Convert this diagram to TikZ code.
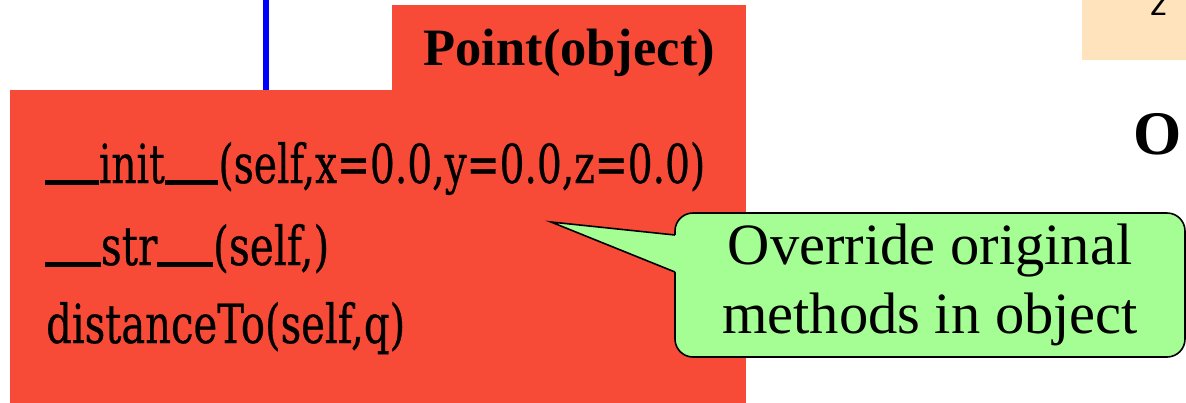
\documentclass[tikz,border=0pt]{standalone}
\usepackage{fontspec}
\setmainfont{Liberation Serif}
\newfontfamily\methfont[FakeBold=0.6]{DejaVu Serif}
\newfontfamily\sansz{Liberation Sans}
\usepackage{graphicx}
\definecolor{boxred}{HTML}{F84B37}
\definecolor{calgreen}{HTML}{A5FE94}
\definecolor{peach}{HTML}{FEE3BC}
\newcommand\methline[2]{\resizebox{#1}{41bp}{\methfont\fontsize{54bp}{54bp}\selectfont #2}}
\newcommand\uu{\rule[-1.5bp]{74bp}{4.5bp}}
\tikzset{
  redpart/.style={fill=boxred, draw=none, inner sep=0pt},
  methtext/.style={anchor=base west, inner sep=0pt},
  calbox/.style={fill=calgreen, draw=black, line width=1.6bp, rounded corners=18bp,
    minimum width=510bp, minimum height=144bp, inner sep=0pt, align=center,
    font=\fontsize{58.5bp}{69bp}\selectfont},
  calline/.style={draw=black, line width=1.6bp, line join=miter},
  bluelink/.style={draw=blue, line width=6bp}
}
\begin{document}
\begin{tikzpicture}[x=1bp,y=-1bp]
\clip (0,0) rectangle (1186,402);
\fill[white] (0,0) rectangle (1186,402);
% orange box (top right)
\node[fill=peach, inner sep=0pt, minimum width=120bp, minimum height=120bp, anchor=south west] (obox) at (1082,60) {};
\node[anchor=base west, inner sep=0pt, font=\sansz\fontsize{34bp}{34bp}\selectfont] (zz) at (1150,15) {z};
% big bold O
\node[anchor=base west, inner sep=0pt, font=\bfseries\fontsize{62bp}{62bp}\selectfont] (ob) at (1133,154) {O};
% red class box
\node[redpart, minimum width=736bp, minimum height=330bp, anchor=north west] (body) at (10,90) {};
\node[redpart, minimum width=354bp, minimum height=86bp, anchor=north west,
      text height=40bp, text depth=5bp, font=\bfseries\fontsize{52.5bp}{52.5bp}\selectfont] (tab) at (392,5) {Point(object)};
% blue connector into the box
\coordinate (btop) at (266,-10);
\draw[bluelink] (btop) -- (btop |- body.north);
% method lines
\node[methtext] (m1) at (45,183) {\methline{660bp}{\uu init\uu(self,x=0.0,y=0.0,z=0.0)}};
\node[methtext] (m2) at (45,265) {\methline{284bp}{\uu str\uu(self,)}};
\node[methtext] (m3) at (46,343) {\methline{359bp}{distanceTo(self,q)}};
% callout
\node[calbox] (cal) at (930,285) {Override original\\methods in object};
\coordinate (tip) at (551,222);
\coordinate (p1) at (675,235);
\coordinate (p2) at (675,272);
\fill[calgreen] (tip) -- (p1) -- ([xshift=4bp]p1) -- ([xshift=4bp]p2) -- (p2) -- cycle;
\draw[calline] (p1) -- (tip) -- (p2);
\end{tikzpicture}
\end{document}
